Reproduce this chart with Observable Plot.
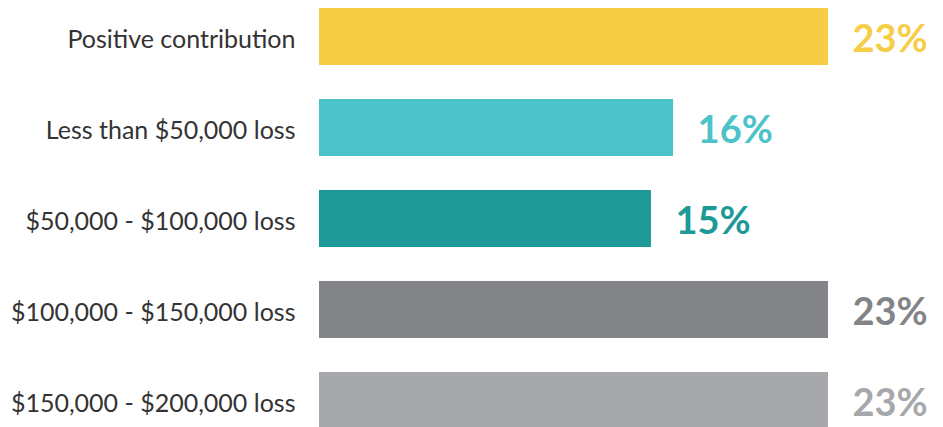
<!DOCTYPE html>
<html>
<head>
<meta charset="utf-8">
<script src="https://cdn.jsdelivr.net/npm/d3@7"></script>
<script src="https://cdn.jsdelivr.net/npm/@observablehq/plot@0.6"></script>
<style>
  html, body { margin: 0; padding: 0; background: #fff; overflow: hidden; }
  #chart svg { display: block; }
</style>
</head>
<body>
<div id="chart"></div>
<script>
const categories = [
  "Positive contribution",
  "Less than $50,000 loss",
  "$50,000 - $100,000 loss",
  "$100,000 - $150,000 loss",
  "$150,000 - $200,000 loss"
];
const values = [23, 16, 15, 23, 23];
const colors = ["#F7CD46", "#4BC3C8", "#1D9A98", "#838488", "#A7A8AC"];
const valueLabels = ["23%", "16%", "15%", "23%", "23%"];

const data = categories.map((c, i) => ({category: c, value: values[i], color: colors[i], label: valueLabels[i]}));

const chart = Plot.plot({
  width: 943,
  height: 427,
  marginLeft: 319,
  marginRight: 115,
  marginTop: 0,
  marginBottom: 0,
  style: {fontFamily: "Lato, 'Open Sans', sans-serif", background: "#fff", overflow: "hidden"},
  x: {domain: [0, 23], range: [319, 828], axis: null},
  y: {domain: categories, range: [7, 431], paddingInner: 0.37, paddingOuter: 0, axis: null, label: null},
  marks: [
    Plot.barX(data, {y: "category", x: "value", fill: "color"}),
    Plot.axisY({
      label: null,
      tickSize: 0,
      tickPadding: 24,
      fontSize: 25,
      fill: "#333333",
      dy: 3
    }),
    Plot.text(data, {
      y: "category",
      x: "value",
      text: "label",
      fill: "color",
      textAnchor: "start",
      dx: 24,
      dy: 3,
      fontSize: 38,
      fontWeight: 700
    })
  ]
});
document.getElementById("chart").appendChild(chart);
</script>
</body>
</html>
